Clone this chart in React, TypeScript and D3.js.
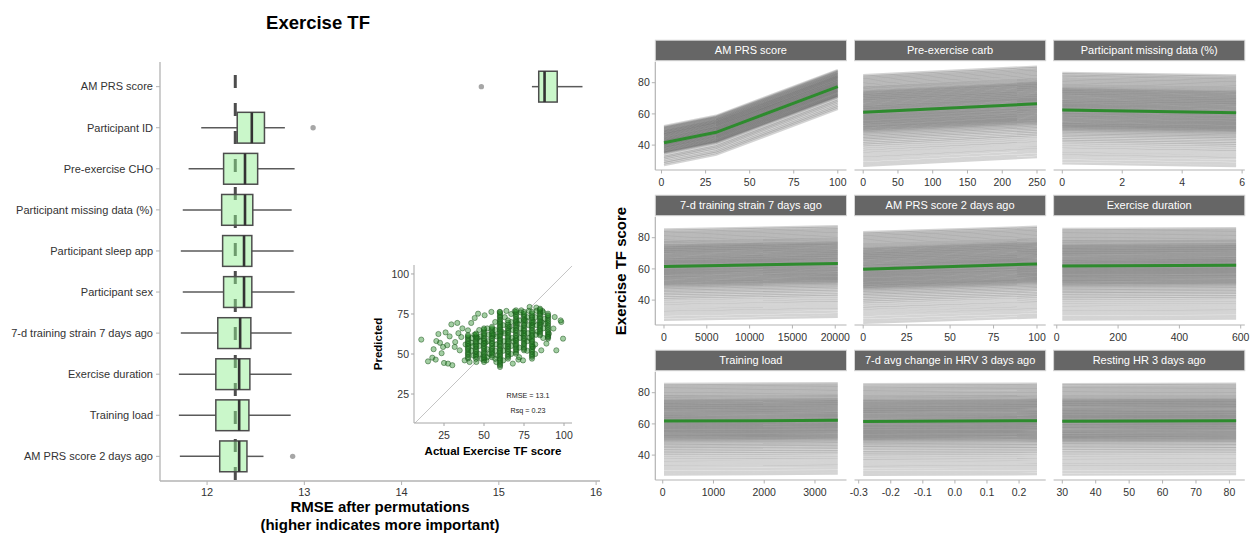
import { useEffect, useRef } from "react";
import * as d3 from "d3";

const FONT = "'Liberation Sans', Arial, Helvetica, sans-serif";

// ---- permutation importance (RMSE after permuting each feature) ----
const features = [
  "AM PRS score",
  "Participant ID",
  "Pre-exercise CHO",
  "Participant missing data (%)",
  "Participant sleep app",
  "Participant sex",
  "7-d training strain 7 days ago",
  "Exercise duration",
  "Training load",
  "AM PRS score 2 days ago",
];
const whiskerLow = [15.34, 11.94, 11.81, 11.75, 11.73, 11.75, 11.73, 11.71, 11.71, 11.72];
const q1 = [15.41, 12.31, 12.17, 12.15, 12.16, 12.17, 12.11, 12.09, 12.09, 12.13];
const medians = [15.47, 12.46, 12.39, 12.39, 12.38, 12.38, 12.34, 12.33, 12.33, 12.33];
const q3 = [15.6, 12.59, 12.52, 12.47, 12.46, 12.46, 12.45, 12.44, 12.43, 12.41];
const whiskerHigh = [15.86, 12.8, 12.9, 12.87, 12.89, 12.9, 12.87, 12.87, 12.86, 12.58];
const outlierFeature = ["AM PRS score", "Participant ID", "AM PRS score 2 days ago"];
const outlierRmse = [14.82, 13.09, 12.88];
const baselineRmse = 12.29;
const rmseLimits = [11.516, 16.04];
const rmseTicks = [12, 13, 14, 15, 16];

// ---- inset: actual vs predicted ----
const scatterSparse: [number, number][] = [
  [10.8, 59], [15, 45.4], [17.7, 47.7], [19.8, 46.5], [20.2, 58.1], [22.5, 57], [24.4, 54.4],
  [25, 44.4], [27.5, 44], [30.2, 43], [26, 63.5], [28.5, 61], [29.6, 68.5], [33.3, 69.4],
  [31.7, 54.4], [34.8, 52.3], [35.8, 60.6], [37.9, 46], [40, 64.8], [42, 69.4], [44.2, 72.5],
  [46.3, 75.2], [50.4, 74.2], [54.6, 76.3], [59.8, 76.3], [64, 76.9], [69.2, 76.7], [73.3, 77.3],
  [78.5, 79.4], [82.7, 79], [86.5, 76.9], [90, 75.2], [90.6, 62.7], [94.2, 73.1], [95.2, 52.3],
  [98.3, 70], [99.4, 59.6], [89, 56.5], [85.8, 52.3], [80.6, 54.4], [74.4, 46], [68, 44],
  [57.7, 45], [51.5, 46], [45.2, 45], [41, 45], [23.5, 50.5], [32, 57.5], [36.5, 66], [38.5, 56],
  [93.4, 65.9], [97.9, 71], [71.5, 46.5], [21.5, 62.5], [27, 55.5], [34, 63], [18.5, 53],
];
const denseActual = [40, 45, 50, 55, 60, 65, 70, 75, 80, 85, 90];
const densePredicted = [
  [47.2, 48.1, 49.3, 50.2, 51.1, 52.3, 53.2, 54.0, 55.1, 56.2, 57.0, 58.1, 59.3, 60.2, 61.1, 61.8],
  [47.0, 48.2, 49.1, 50.0, 51.2, 52.1, 53.0, 54.2, 55.1, 56.0, 57.2, 58.0, 59.1, 60.2, 61.0, 62.1, 62.8],
  [45.0, 46.1, 47.2, 48.0, 49.1, 50.2, 51.0, 52.1, 53.2, 54.0, 55.1, 56.2, 57.0, 58.1, 59.2, 60.0,
    61.1, 62.2, 63.0, 64.1, 65.2, 66.0],
  [48.0, 49.1, 50.2, 51.0, 52.1, 53.2, 54.0, 55.1, 56.2, 57.0, 58.1, 59.2, 60.0, 61.1, 62.2, 63.0,
    64.1, 65.2, 66.1, 67.0],
  [41.9, 42.9, 43.7, 44.6, 45.6, 46.4, 47.3, 48.3, 49.1, 50.0, 50.9, 51.9, 52.7, 53.6, 54.6, 55.4,
    56.3, 57.3, 58.1, 59.0, 59.9, 60.9, 61.7, 62.6, 63.6, 64.4, 65.3, 66.3, 67.1, 68.0, 68.9, 69.9,
    70.7, 71.6, 72.6, 73.4, 74.3, 75.3, 76.2],
  [47.1, 48.2, 49.0, 50.1, 51.2, 52.0, 53.1, 54.2, 55.0, 56.1, 57.2, 58.0, 59.1, 60.2, 61.0, 62.1,
    63.2, 64.0, 65.1, 66.2, 67.3, 68.4, 69.6, 71.0],
  [50.2, 51.1, 52.2, 53.0, 54.1, 55.2, 56.0, 57.1, 58.2, 59.0, 60.1, 61.2, 62.0, 63.1, 64.2, 65.0,
    66.1, 67.2, 68.0, 69.1, 70.2, 71.0, 72.1, 73.2, 74.0, 75.1, 76.2, 77.3],
  [52.3, 53.2, 54.1, 55.3, 56.2, 57.1, 58.3, 59.2, 60.1, 61.3, 62.2, 63.1, 64.3, 65.2, 66.1, 67.3,
    68.2, 69.1, 70.3, 71.2, 72.1, 73.3, 74.2, 75.1, 76.3],
  [47.1, 48.3, 49.2, 50.1, 51.3, 52.2, 53.1, 54.3, 55.2, 56.1, 57.3, 58.2, 59.1, 60.3, 61.2, 62.1,
    63.3, 64.2, 65.1, 66.3, 67.2, 68.1, 69.3, 70.2, 71.1, 72.3, 73.2, 74.1, 75.3, 76.3],
  [61.7, 62.6, 63.6, 64.5, 65.4, 66.4, 67.3, 68.2, 69.2, 70.1, 71.0, 72.0, 72.9, 73.8, 74.8, 75.7,
    76.6, 77.6, 78.3],
  [59.6, 60.4, 60.9, 61.5, 62.6, 63.7, 64.8, 65.9, 67.0, 68.1, 69.2, 70.3, 71.4, 72.5, 73.6, 74.2],
];
const scatterBetween: [number, number][] = [
  [42, 52], [42, 57], [42.5, 60], [43, 55], [44, 62], [47, 50], [47, 55], [47.5, 58], [48, 61],
  [47, 65], [52, 48], [52, 53], [52.5, 58], [53, 62], [52, 66], [57, 47], [57, 52], [57.5, 56],
  [58, 61], [57, 65], [57, 70], [62, 46], [62, 52], [62.5, 58], [63, 63], [62, 68], [63, 73],
  [67, 50], [67, 55], [67.5, 60], [68, 65], [67, 70], [67, 75], [72, 48], [72, 54], [72.5, 60],
  [73, 66], [72, 71], [73, 76], [77, 52], [77, 58], [77.5, 63], [78, 68], [77, 73], [78, 77],
  [82, 50], [82, 56], [82.5, 62], [83, 68], [82, 73], [83, 77], [87, 60], [87, 66], [88, 72],
  [87, 76], [43.5, 49], [48.5, 47], [53.5, 50], [58.5, 49], [63.5, 55], [68.5, 58], [73.5, 63],
  [78.5, 60], [83.5, 64], [88.5, 69], [46, 60], [51, 57], [56, 62], [61, 64], [66, 67], [71, 69],
  [76, 71], [81, 70], [86, 70],
];
const actualLimits = [6.25, 105];
const predictedLimits = [6.9, 105.6];
const insetTicks = [25, 50, 75, 100];

// ---- ICE / partial dependence panels ----
const iceFeatures = [
  "AM PRS score",
  "Pre-exercise carb",
  "Participant missing data (%)",
  "7-d training strain 7 days ago",
  "AM PRS score 2 days ago",
  "Exercise duration",
  "Training load",
  "7-d avg change in HRV 3 days ago",
  "Resting HR 3 days ago",
];
const iceXRange = [
  [1.4, 100], [0, 250], [0, 5.8], [0, 20300], [0, 100], [18, 585], [25, 3450], [-0.286, 0.256], [30, 82],
];
const pdX = [
  [1.4, 31, 100], [0, 250], [0, 5.8], [0, 20300], [0, 100], [18, 585], [25, 3450], [-0.286, 0.256], [30, 82],
];
const pdY = [
  [41.5, 48.2, 77.5], [61, 66.5], [62.5, 60.8], [61.5, 63.5], [59.7, 63.2], [61.8, 62.3], [61.8, 62.3],
  [61.6, 62.0], [61.7, 62.0],
];
const iceTicks = [
  [0, 25, 50, 75, 100], [0, 50, 100, 150, 200, 250], [0, 2, 4, 6], [0, 5000, 10000, 15000, 20000],
  [0, 25, 50, 75, 100], [0, 200, 400, 600], [0, 1000, 2000, 3000], [-0.3, -0.2, -0.1, 0, 0.1, 0.2],
  [30, 40, 50, 60, 70, 80],
];
const iceYRange = [27.2, 90.3];
const iceYTicks = [40, 60, 80];
// each individual curve = PD curve shifted by the observation's offset
const iceOffsets = [
  -34.2, -32.6, -30.9, -29.3, -27.9, -26.4, -24.9, -23.6,
  -22.2, -20.9, -19.8, -18.7, -17.6, -16.6, -15.6, -14.7, -13.8, -13.0, -12.3,
  -11.7, -11.1, -10.6, -10.0, -9.5, -9.0, -8.4, -7.9, -7.3, -6.8, -6.3, -5.7, -5.2, -4.6, -4.1,
  -3.6, -3.0, -2.5, -2.0, -1.4, -0.9, -0.3, 0.2, 0.7, 1.3, 1.8, 2.4, 2.9, 3.4, 4.0, 4.5, 5.1,
  5.6, 6.2, 6.7, 7.3, 7.8, 8.4, 8.9, 9.5, 10.0, 10.6, 11.1, 11.7, 12.2, 12.8, 13.3, 13.9,
  14.6, 15.4, 16.1, 16.9, 17.8, 18.6, 19.5, 20.3, 21.2, 22.0, 22.9, 23.8,
];
const iceOffsetsAmPrs = [
  -14.3, -13.1, -12.2, -11.0, -9.9, -9.0, -8.1,
  -6.8, -6.4, -6.0, -5.5, -5.1, -4.6, -4.2, -3.7, -3.3, -2.8, -2.4, -1.9, -1.5, -1.0, -0.6,
  -0.1, 0.3, 0.8, 1.2, 1.7, 2.1, 2.6, 3.0, 3.5, 3.9, 4.4, 4.8, 5.3, 5.7, 6.2, 6.6, 7.1, 7.5,
  8.0, 8.5, 9.0, 9.5, 10.0, 10.6,
];

type G = d3.Selection<SVGGElement, unknown, null, undefined>;

function drawImportance(g: G) {
  const x = d3.scaleLinear().domain(rmseLimits).range([160, 600]);
  const y = d3.scalePoint<string>().domain(features).range([62, 481]).padding(0.6);
  const bh = y.step() * 0.75;
  const axisCol = "#b3b3b3";

  g.append("text")
    .attr("x", 318).attr("y", 29).attr("text-anchor", "middle")
    .attr("font-size", 18.5).attr("font-weight", "bold").attr("fill", "#000")
    .text("Exercise TF");

  // baseline RMSE
  g.append("line")
    .attr("x1", x(baselineRmse)).attr("x2", x(baselineRmse))
    .attr("y1", 62).attr("y2", 481)
    .attr("stroke", "#4d4d4d").attr("stroke-width", 3)
    .attr("stroke-dasharray", "13 15").attr("stroke-dashoffset", 15);

  features.forEach((f, i) => {
    const cy = y(f)!;
    g.append("line").attr("x1", x(whiskerLow[i])).attr("x2", x(q1[i]))
      .attr("y1", cy).attr("y2", cy).attr("stroke", "#5a5a5a").attr("stroke-width", 1.5);
    g.append("line").attr("x1", x(q3[i])).attr("x2", x(whiskerHigh[i]))
      .attr("y1", cy).attr("y2", cy).attr("stroke", "#5a5a5a").attr("stroke-width", 1.5);
    g.append("rect")
      .attr("x", x(q1[i])).attr("y", cy - bh / 2)
      .attr("width", x(q3[i]) - x(q1[i])).attr("height", bh)
      .attr("fill", "#90ee90").attr("fill-opacity", 0.48)
      .attr("stroke", "#4d4d4d").attr("stroke-width", 1.5);
    g.append("line").attr("x1", x(medians[i])).attr("x2", x(medians[i]))
      .attr("y1", cy - bh / 2).attr("y2", cy + bh / 2)
      .attr("stroke", "#333").attr("stroke-width", 2.6);
  });

  g.selectAll("circle.out").data(outlierFeature).join("circle")
    .attr("class", "out")
    .attr("cx", (_, i) => x(outlierRmse[i])).attr("cy", (d) => y(d)!)
    .attr("r", 2.7).attr("fill", "#a6a6a6");

  // axes
  g.append("line").attr("x1", 160).attr("x2", 160).attr("y1", 62).attr("y2", 481)
    .attr("stroke", axisCol).attr("stroke-width", 1.3);
  g.append("line").attr("x1", 160).attr("x2", 600).attr("y1", 481).attr("y2", 481)
    .attr("stroke", axisCol).attr("stroke-width", 1.3);
  features.forEach((f) => {
    const cy = y(f)!;
    g.append("line").attr("x1", 156).attr("x2", 160).attr("y1", cy).attr("y2", cy)
      .attr("stroke", axisCol);
    g.append("text").attr("x", 153).attr("y", cy).attr("dy", "0.35em")
      .attr("text-anchor", "end").attr("font-size", 11).attr("fill", "#333").text(f);
  });
  rmseTicks.forEach((t) => {
    g.append("line").attr("x1", x(t)).attr("x2", x(t)).attr("y1", 481).attr("y2", 485)
      .attr("stroke", axisCol);
    g.append("text").attr("x", x(t)).attr("y", 496).attr("text-anchor", "middle")
      .attr("font-size", 11).attr("fill", "#333").text(t);
  });
  g.append("text").attr("x", 380).attr("y", 512).attr("text-anchor", "middle")
    .attr("font-size", 15).attr("font-weight", "bold").text("RMSE after permutations");
  g.append("text").attr("x", 380).attr("y", 530).attr("text-anchor", "middle")
    .attr("font-size", 15).attr("font-weight", "bold").text("(higher indicates more important)");
}

function drawScatter(g: G) {
  const x = d3.scaleLinear().domain(actualLimits).range([414, 572]);
  const y = d3.scaleLinear().domain(predictedLimits).range([423, 265]);
  const axisCol = "#a6a6a6";

  const lo = Math.max(actualLimits[0], predictedLimits[0]);
  const hi = Math.min(actualLimits[1], predictedLimits[1]);
  g.append("line").attr("x1", x(lo)).attr("y1", y(lo)).attr("x2", x(hi)).attr("y2", y(hi))
    .attr("stroke", "#c4c4c4").attr("stroke-width", 1);

  const obs: [number, number][] = [
    ...scatterSparse,
    ...scatterBetween,
    ...denseActual.flatMap((a, i) => densePredicted[i].map((p) => [a, p] as [number, number])),
  ];
  g.selectAll("circle").data(obs).join("circle")
    .attr("cx", (d) => x(d[0])).attr("cy", (d) => y(d[1])).attr("r", 2.6)
    .attr("fill", "#228b22").attr("fill-opacity", 0.42)
    .attr("stroke", "#174d17").attr("stroke-opacity", 0.6).attr("stroke-width", 0.8);

  g.append("line").attr("x1", 414).attr("x2", 414).attr("y1", 265).attr("y2", 423)
    .attr("stroke", axisCol);
  g.append("line").attr("x1", 414).attr("x2", 572).attr("y1", 423).attr("y2", 423)
    .attr("stroke", axisCol);
  insetTicks.forEach((t) => {
    g.append("line").attr("x1", x(t)).attr("x2", x(t)).attr("y1", 423).attr("y2", 426)
      .attr("stroke", axisCol);
    g.append("text").attr("x", x(t)).attr("y", 439).attr("text-anchor", "middle")
      .attr("font-size", 10.5).attr("fill", "#333").text(t);
    g.append("line").attr("x1", 411).attr("x2", 414).attr("y1", y(t)).attr("y2", y(t))
      .attr("stroke", axisCol);
    g.append("text").attr("x", 409).attr("y", y(t)).attr("dy", "0.35em").attr("text-anchor", "end")
      .attr("font-size", 10.5).attr("fill", "#333").text(t);
  });
  g.append("text").attr("x", 493).attr("y", 455).attr("text-anchor", "middle")
    .attr("font-size", 11.5).attr("font-weight", "bold").text("Actual Exercise TF score");
  g.append("text").attr("transform", "translate(382,344) rotate(-90)").attr("text-anchor", "middle")
    .attr("font-size", 11.5).attr("font-weight", "bold").text("Predicted");
  g.append("text").attr("x", 528).attr("y", 398).attr("text-anchor", "middle")
    .attr("font-size", 7.2).attr("fill", "#222").text("RMSE = 13.1");
  g.append("text").attr("x", 528).attr("y", 413).attr("text-anchor", "middle")
    .attr("font-size", 7.2).attr("fill", "#222").text("Rsq = 0.23");
}

function drawIce(g: G) {
  const colX = [655.3, 854.5, 1053.6];
  const rowY = [61.7, 216.7, 371.7];
  const pw = 191.2;
  const ph = 108.3;
  const axisCol = "#b3b3b3";
  const yPad = (iceYRange[1] - iceYRange[0]) * 0.05;

  iceFeatures.forEach((name, k) => {
    const c = k % 3;
    const r = Math.floor(k / 3);
    const [lo, hi] = iceXRange[k];
    const pad = (hi - lo) * 0.05;
    const x = d3.scaleLinear().domain([lo - pad, hi + pad]).range([colX[c], colX[c] + pw]);
    const y = d3.scaleLinear().domain([iceYRange[0] - yPad, iceYRange[1] + yPad])
      .range([rowY[r] + ph, rowY[r]]);
    const line = d3.line<[number, number]>().x((d) => x(d[0])).y((d) => y(d[1]));
    const pd: [number, number][] = pdX[k].map((v, i) => [v, pdY[k][i]]);
    const offsets = k === 0 ? iceOffsetsAmPrs : iceOffsets;

    const p = g.append("g");
    p.selectAll("path.ice").data(offsets).join("path")
      .attr("class", "ice")
      .attr("d", (o) => line(pd.map(([a, b]) => [a, b + o] as [number, number])))
      .attr("fill", "none").attr("stroke", "#1a1a1a").attr("stroke-opacity", 0.19)
      .attr("stroke-width", 2.4);
    p.append("path").attr("d", line(pd)).attr("fill", "none")
      .attr("stroke", "#2e8b2e").attr("stroke-width", 3);

    // strip
    p.append("rect").attr("x", colX[c]).attr("y", rowY[r] - 21.5).attr("width", pw).attr("height", 20.5)
      .attr("fill", "#666").attr("stroke", "#d6d6d6").attr("stroke-width", 1);
    p.append("text").attr("x", colX[c] + pw / 2).attr("y", rowY[r] - 11.2).attr("dy", "0.35em")
      .attr("text-anchor", "middle").attr("font-size", 11).attr("fill", "#fff").text(name);

    // x axis
    p.append("line").attr("x1", colX[c]).attr("x2", colX[c] + pw)
      .attr("y1", rowY[r] + ph).attr("y2", rowY[r] + ph).attr("stroke", axisCol).attr("stroke-width", 1.2);
    const fmt = k === 7 ? (v: number) => v.toFixed(1) : (v: number) => String(v);
    iceTicks[k].forEach((t) => {
      p.append("line").attr("x1", x(t)).attr("x2", x(t))
        .attr("y1", rowY[r] + ph).attr("y2", rowY[r] + ph + 3.5).attr("stroke", axisCol);
      p.append("text").attr("x", x(t)).attr("y", rowY[r] + ph + 15.5).attr("text-anchor", "middle")
        .attr("font-size", 10.5).attr("fill", "#333").text(fmt(t));
    });

    if (c === 0) {
      p.append("line").attr("x1", colX[c]).attr("x2", colX[c])
        .attr("y1", rowY[r]).attr("y2", rowY[r] + ph).attr("stroke", axisCol).attr("stroke-width", 1.2);
      iceYTicks.forEach((t) => {
        p.append("line").attr("x1", colX[c] - 3.5).attr("x2", colX[c]).attr("y1", y(t)).attr("y2", y(t))
          .attr("stroke", axisCol);
        p.append("text").attr("x", colX[c] - 5.5).attr("y", y(t)).attr("dy", "0.35em")
          .attr("text-anchor", "end").attr("font-size", 10.5).attr("fill", "#333").text(t);
      });
    }
  });

  g.append("text").attr("transform", "translate(626,271) rotate(-90)").attr("text-anchor", "middle")
    .attr("font-size", 15).attr("font-weight", "bold").text("Exercise TF score");
}

export default function App() {
  const ref = useRef<SVGSVGElement>(null);

  useEffect(() => {
    if (!ref.current) return;
    const svg = d3.select(ref.current);
    svg.selectAll("*").remove();
    const root = svg.append("g").attr("font-family", FONT) as unknown as G;
    drawImportance(root.append("g"));
    drawScatter(root.append("g"));
    drawIce(root.append("g"));
  }, []);

  return (
    <svg
      ref={ref}
      width={1252}
      height={536}
      style={{ position: "absolute", left: 0, top: 0, background: "#fff" }}
    />
  );
}
